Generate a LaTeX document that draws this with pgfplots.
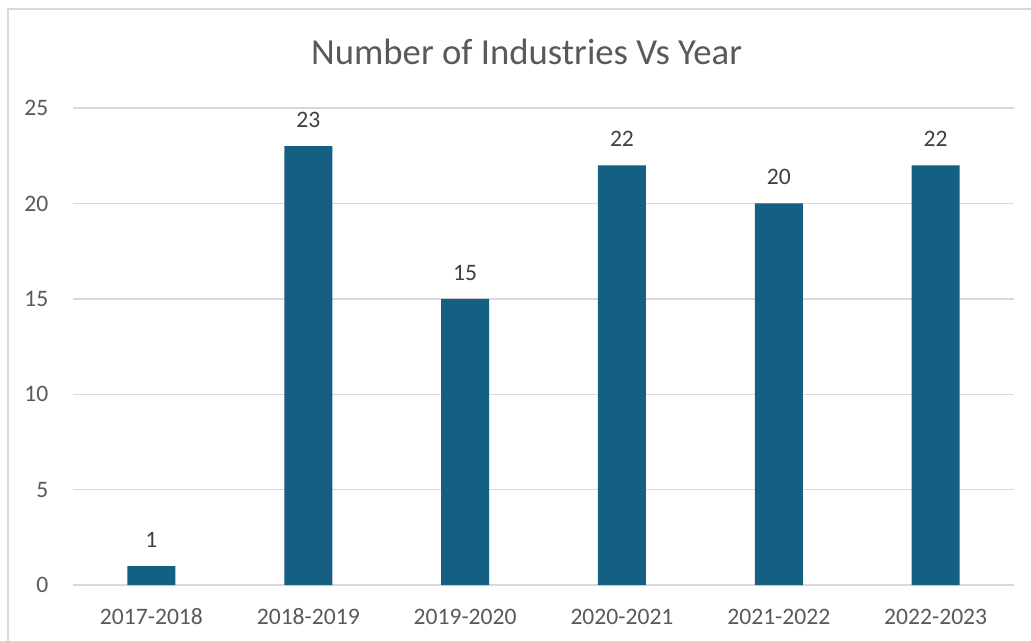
\documentclass[border=0pt]{standalone}
\usepackage{fontspec}
\setmainfont{Carlito}
\usepackage{pgfplots}
\pgfplotsset{compat=1.18}
\definecolor{barc}{HTML}{156082}
\definecolor{gridc}{HTML}{D9D9D9}
\definecolor{txt}{HTML}{595959}
\definecolor{lab}{HTML}{404040}
\begin{document}
\begin{tikzpicture}
\useasboundingbox (0,0) rectangle (393.3pt,-244.5pt);
\draw[gridc, line width=0.5pt] (3.05pt,-244.5pt) -- (3.05pt,-3.43pt) -- (393.3pt,-3.43pt);
\node[txt, font=\fontsize{14}{16}\selectfont] at (200.9pt,-19.8pt) {Number of Industries Vs Year};
\begin{axis}[
  at={(27.85pt,-223.2pt)}, anchor=south west,
  scale only axis, width=359.0pt, height=182.0pt,
  xmin=-0.5, xmax=5.5, ymin=0, ymax=25,
  ytick={0,5,10,15,20,25},
  xtick={0,1,2,3,4,5},
  xticklabels={2017-2018,2018-2019,2019-2020,2020-2021,2021-2022,2022-2023},
  ymajorgrids, major grid style={gridc, line width=0.5pt},
  axis line style={draw=none},
  tick style={draw=none},
  /pgf/number format/assume math mode=true,
  ticklabel style={font=\fontsize{9}{10}\selectfont, text=txt, inner sep=0pt},
  yticklabel style={anchor=east, xshift=-9.2pt},
  xticklabel style={anchor=base, yshift=-10.8pt},
  ybar, bar width=18.3pt,
  nodes near coords,
  every node near coord/.append style={font=\fontsize{9}{10}\selectfont, text=lab, inner sep=0pt, anchor=south, yshift=6.9pt},
  clip=false,
]
\addplot[fill=barc, draw=none] coordinates {(0,1) (1,23) (2,15) (3,22) (4,20) (5,22)};
\end{axis}
\end{tikzpicture}
\end{document}
